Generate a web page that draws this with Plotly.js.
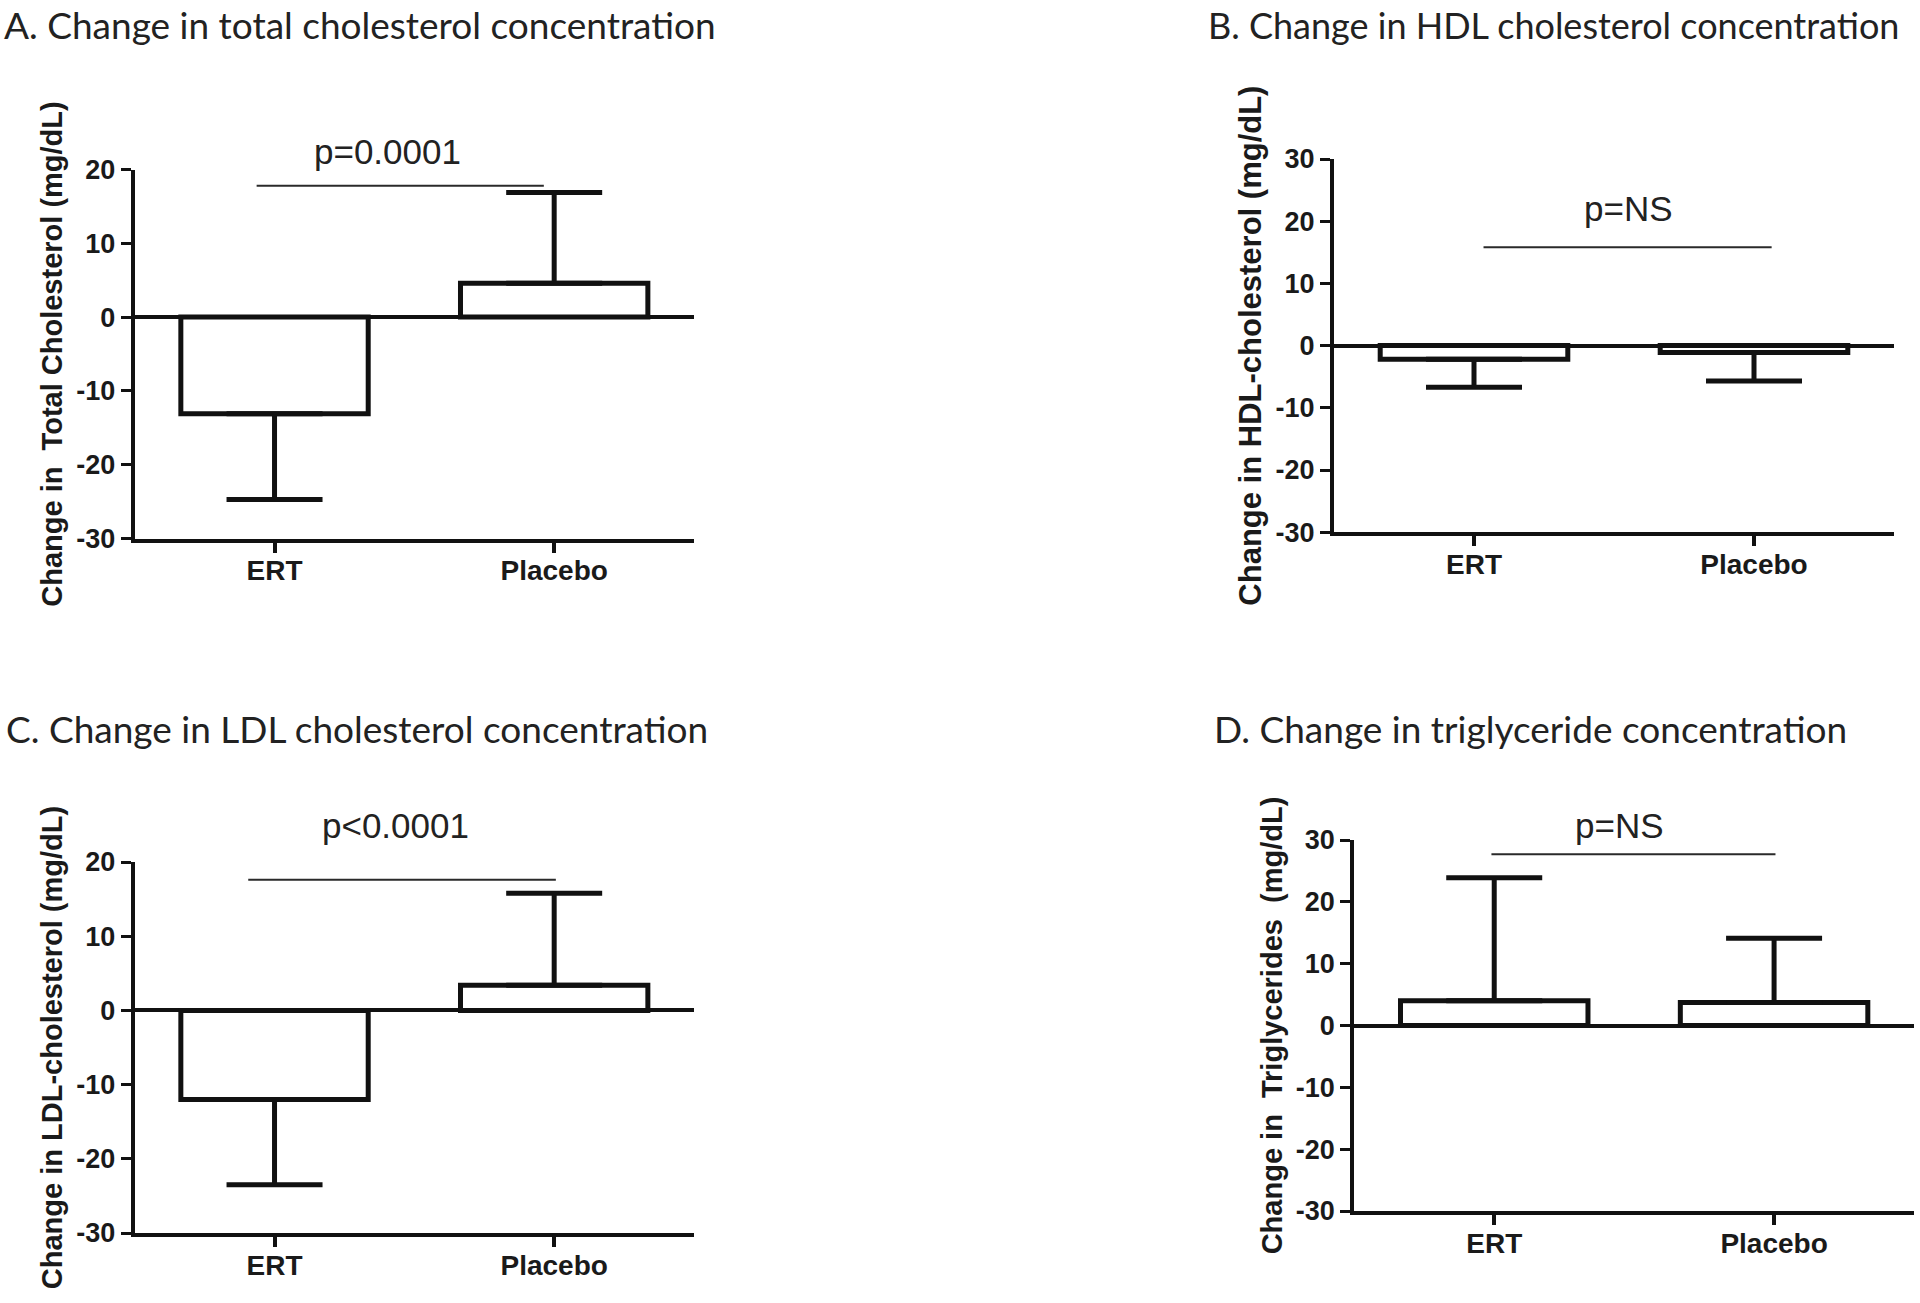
<!DOCTYPE html>
<html><head><meta charset="utf-8">
<script src="https://cdn.plot.ly/plotly-3.0.1.min.js"></script>
<style>html,body{margin:0;padding:0;background:#fff}</style>
</head><body><div id="chart" style="width:1920px;height:1303px"></div>
<script>
// ---- data ----
const categories = ['ERT', 'Placebo'];
const totalCholChange = [-13.1, 4.6];
const totalCholErr = [11.6, 12.3];
const hdlChange = [-2.2, -1.1];
const hdlErr = [4.5, 4.6];
const ldlChange = [-12.0, 3.4];
const ldlErr = [11.5, 12.4];
const trigChange = [4.0, 3.7];
const trigErr = [19.9, 10.4];
const yTicksAC = [-30, -20, -10, 0, 10, 20];
const yTicksBD = [-30, -20, -10, 0, 10, 20, 30];
const pLabels = ['p=0.0001', 'p=NS', 'p<0.0001', 'p=NS'];
const panelTitles = [
  'A. Change in total cholesterol concentration',
  'B. Change in HDL cholesterol concentration',
  'C. Change in LDL cholesterol concentration',
  'D. Change in triglyceride concentration'
];
const yTitles = [
  'Change in  Total Cholesterol (mg/dL)',
  'Change in HDL-cholesterol (mg/dL)',
  'Change in LDL-cholesterol (mg/dL)',
  'Change in  Triglycerides  (mg/dL)'
];

// ---- styling / layout ----
const INK = '#111111';
const W = 1920, H = 1303;
const px = v => v / W;
const py = v => 1 - v / H;
const ARIAL = 'Liberation Sans, Arial, sans-serif';

const panels = [
  {vals: totalCholChange, err: totalCholErr, xd: [134.7, 694], yd: [538.5, 169.5], yr: [-30, 20], ticks: yTicksAC,
   sig: {x0: -0.064, x1: 0.963, y: 17.8}, p: {x: 0.403, y: 22.4}, title: {x: 2.4, y: 25, size: 37}, ytSize: 29},
  {vals: hdlChange, err: hdlErr, xd: [1334, 1894], yd: [532.2, 159], yr: [-30, 30], ticks: yTicksBD,
   sig: {x0: 0.034, x1: 1.063, y: 15.8}, p: {x: 0.55, y: 22.1}, title: {x: 1206, y: 25, size: 36}, ytSize: 31},
  {vals: ldlChange, err: ldlErr, xd: [134.7, 694], yd: [1233, 862], yr: [-30, 20], ticks: yTicksAC,
   sig: {x0: -0.094, x1: 1.006, y: 17.6}, p: {x: 0.434, y: 24.9}, title: {x: 3.7, y: 728, size: 37}, ytSize: 29},
  {vals: trigChange, err: trigErr, xd: [1354.3, 1914], yd: [1211, 840], yr: [-30, 30], ticks: yTicksBD,
   sig: {x0: -0.01, x1: 1.005, y: 27.7}, p: {x: 0.449, y: 32.3}, title: {x: 1212, y: 728, size: 37}, ytSize: 29}
];

const traces = [];
const layout = {
  width: W, height: H,
  margin: {l: 0, r: 0, t: 0, b: 0},
  paper_bgcolor: '#ffffff', plot_bgcolor: 'rgba(0,0,0,0)',
  showlegend: false,
  annotations: [], shapes: []
};

panels.forEach((pn, i) => {
  const n = i + 1;
  const xk = n === 1 ? 'x' : 'x' + n;
  const yk = n === 1 ? 'y' : 'y' + n;
  const xaName = n === 1 ? 'xaxis' : 'xaxis' + n;
  const yaName = n === 1 ? 'yaxis' : 'yaxis' + n;

  traces.push({
    type: 'bar', x: categories, y: pn.vals, xaxis: xk, yaxis: yk,
    width: 0.67,
    marker: {color: '#ffffff', line: {color: INK, width: 5}},
    error_y: {
      type: 'data', symmetric: false,
      array: pn.vals.map((v, k) => v >= 0 ? pn.err[k] : 0),
      arrayminus: pn.vals.map((v, k) => v < 0 ? pn.err[k] : 0),
      color: INK, thickness: 5, width: 48
    },
    hoverinfo: 'x+y'
  });

  layout[xaName] = {
    domain: [px(pn.xd[0]), px(pn.xd[1])], anchor: yk,
    type: 'category', range: [-0.5, 1.5],
    showline: true, linewidth: 4, linecolor: INK,
    ticks: 'outside', ticklen: 10, tickwidth: 4, tickcolor: INK,
    ticklabelstandoff: -6,
    showgrid: false, zeroline: false,
    tickfont: {family: ARIAL, size: 28, weight: 'bold', color: '#1a1a1a'}
  };
  layout[yaName] = {
    domain: [py(pn.yd[0]), py(pn.yd[1])], anchor: xk,
    range: pn.yr,
    tickmode: 'array', tickvals: pn.ticks, ticktext: pn.ticks.map(v => String(v)),
    showline: true, linewidth: 4, linecolor: INK,
    ticks: 'outside', ticklen: 10, tickwidth: 3, tickcolor: INK,
    showgrid: false,
    zeroline: true, zerolinewidth: 4, zerolinecolor: INK,
    tickfont: {family: ARIAL, size: 27, weight: 'bold', color: '#1a1a1a'},
    title: {text: yTitles[i], standoff: 6,
            font: {family: ARIAL, size: pn.ytSize, weight: 'bold', color: '#1a1a1a'}}
  };

  layout.shapes.push({
    type: 'line', xref: xk, yref: yk,
    x0: pn.sig.x0, x1: pn.sig.x1, y0: pn.sig.y, y1: pn.sig.y,
    line: {color: '#2a2a2a', width: 2}
  });
  layout.annotations.push({
    xref: xk, yref: yk + ' domain', x: pn.p.x,
    y: (pn.p.y - pn.yr[0]) / (pn.yr[1] - pn.yr[0]), text: pLabels[i],
    showarrow: false, xanchor: 'center', yanchor: 'middle',
    font: {family: ARIAL, size: 35, color: '#222222'}
  });
  layout.annotations.push({
    xref: 'paper', yref: 'paper', x: px(pn.title.x), y: py(pn.title.y),
    xanchor: 'left', yanchor: 'middle', text: panelTitles[i], showarrow: false,
    font: {family: 'Lato, sans-serif', size: pn.title.size, color: '#222222'}
  });
});

Plotly.newPlot('chart', traces, layout, {staticPlot: true, displayModeBar: false});
</script>
</body></html>
